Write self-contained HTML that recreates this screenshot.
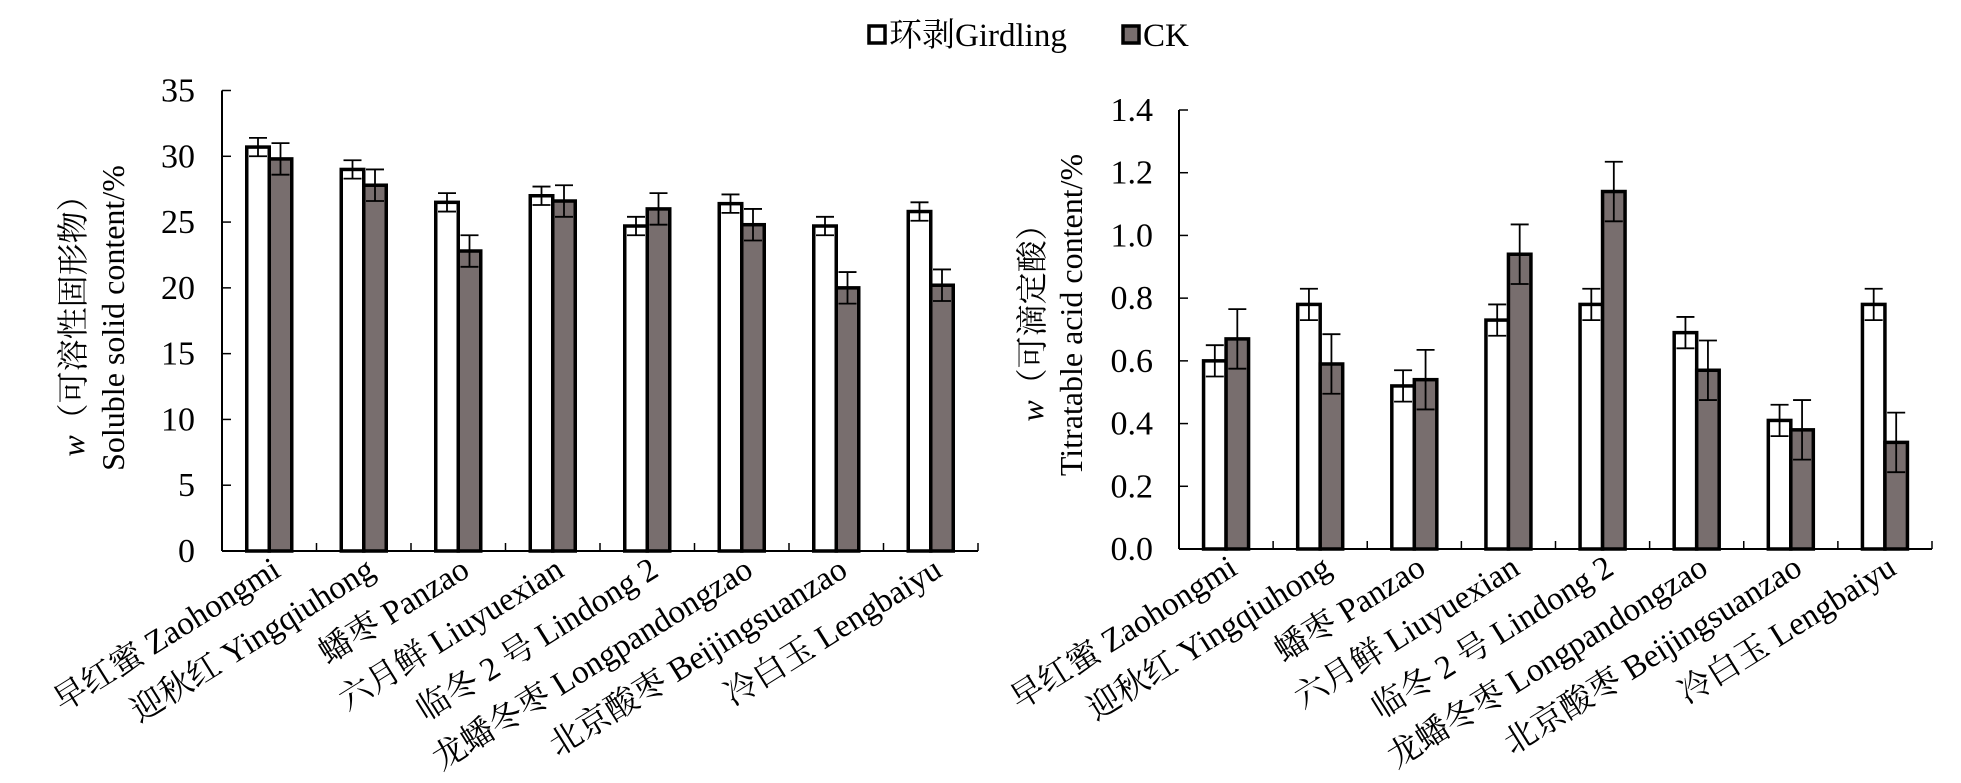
<!DOCTYPE html>
<html><head><meta charset="utf-8"><style>
html,body{margin:0;padding:0;background:#fff;}
svg{display:block;font-family:"Liberation Serif","Noto Serif CJK SC",serif;}
</style></head><body>
<svg id="s" width="1961" height="783" xmlns="http://www.w3.org/2000/svg">
<g font-size="33">
<rect x="869" y="26" width="16" height="17" fill="#fff" stroke="#000" stroke-width="3.5"/>
<text x="889" y="46">环剥Girdling</text>
<rect x="1123" y="26" width="16" height="17" fill="#786e6e" stroke="#000" stroke-width="3.5"/>
<text x="1143" y="46">CK</text>
</g>
</svg>
<script>
var s=document.getElementById('s'),NS='http://www.w3.org/2000/svg';
function el(t,a,txt){var e=document.createElementNS(NS,t);for(var k in a)e.setAttribute(k,a[k]);if(txt!==undefined)e.textContent=txt;s.appendChild(e);return e;}
var names=["早红蜜 Zaohongmi","迎秋红 Yingqiuhong","蟠枣 Panzao","六月鲜 Liuyuexian","临冬 2 号 Lindong 2","龙蟠冬枣 Longpandongzao","北京酸枣 Beijingsuanzao","冷白玉 Lengbaiyu"];
function chart(o){
 var ax=o.ax,x1=o.x1,y0=o.y0,yt=o.yt,w=(x1-ax)/8;
 function Y(v){return y0-(v/o.max)*(y0-yt);}
 for(var i=0;i<8;i++){
  var cx=ax+w*(i+0.5),bw=22.5;
  [[o.g[i],o.ge[i],'#fff',cx-bw],[o.c[i],o.ce[i],'#786e6e',cx]].forEach(function(b){
   var yv=Y(b[0]);
   el('rect',{x:b[3],y:yv,width:bw,height:y0-yv,fill:b[2],stroke:'#000','stroke-width':3.5});
   var mx=b[3]+bw/2,yu=Y(b[0]+b[1]),yd=Y(b[0]-b[1]);
   el('line',{x1:mx,y1:yu,x2:mx,y2:yd,stroke:'#000','stroke-width':1.8});
   el('line',{x1:mx-9,y1:yu,x2:mx+9,y2:yu,stroke:'#000','stroke-width':1.8});
   el('line',{x1:mx-9,y1:yd,x2:mx+9,y2:yd,stroke:'#000','stroke-width':1.8});
  });
  el('text',{x:0,y:0,'font-size':33,'text-anchor':'end',transform:'translate('+(cx+13)+','+(o.ly)+') rotate(-32)'},names[i]);
 }
 el('line',{x1:ax,y1:yt,x2:ax,y2:y0,stroke:'#000','stroke-width':2});
 el('line',{x1:ax,y1:y0,x2:x1,y2:y0,stroke:'#000','stroke-width':2});
 for(var i=0;i<=8;i++){var xx=ax+w*i;el('line',{x1:xx,y1:y0,x2:xx,y2:y0-8,stroke:'#000','stroke-width':1.5});}
 for(var k=0;k<o.ticks.length;k++){var v=o.ticks[k],yy=Y(v);
  el('line',{x1:ax,y1:yy,x2:ax+9,y2:yy,stroke:'#000','stroke-width':1.5});
  el('text',{x:o.tx,y:yy+11,'font-size':34,'text-anchor':'end'},o.lab[k]);}
 var g=el('text',{'font-size':32,'text-anchor':'middle',transform:'translate('+o.l1+','+o.lc+') rotate(-90)'});
 var ti=document.createElementNS(NS,'tspan');ti.setAttribute('font-style','italic');ti.textContent='w';g.appendChild(ti);
 var t2=document.createElementNS(NS,'tspan');t2.textContent=o.t1;g.appendChild(t2);
 el('text',{'font-size':32,'text-anchor':'middle',transform:'translate('+o.l2+','+o.lc+') rotate(-90)'},o.t2);
}
chart({ax:222,x1:978,y0:551,yt:90.5,max:35,ticks:[0,5,10,15,20,25,30,35],lab:['0','5','10','15','20','25','30','35'],tx:195,ly:575,
 g:[30.7,29.0,26.5,27.0,24.7,26.4,24.7,25.8],ge:[0.7,0.7,0.7,0.7,0.7,0.7,0.7,0.7],
 c:[29.8,27.8,22.8,26.6,26.0,24.8,20.0,20.2],ce:[1.2,1.2,1.2,1.2,1.2,1.2,1.2,1.2],
 l1:84,l2:124,lc:318,t1:'（可溶性固形物）',t2:'Soluble solid content/%'});
chart({ax:1179,x1:1932,y0:549,yt:110,max:1.4,ticks:[0,0.2,0.4,0.6,0.8,1.0,1.2,1.4],lab:['0.0','0.2','0.4','0.6','0.8','1.0','1.2','1.4'],tx:1153,ly:573,
 g:[0.60,0.78,0.52,0.73,0.78,0.69,0.41,0.78],ge:[0.05,0.05,0.05,0.05,0.05,0.05,0.05,0.05],
 c:[0.67,0.59,0.54,0.94,1.14,0.57,0.38,0.34],ce:[0.095,0.095,0.095,0.095,0.095,0.095,0.095,0.095],
 l1:1043,l2:1082,lc:315,t1:'（可滴定酸）',t2:'Titratable acid content/%'});
</script>
</body></html>
